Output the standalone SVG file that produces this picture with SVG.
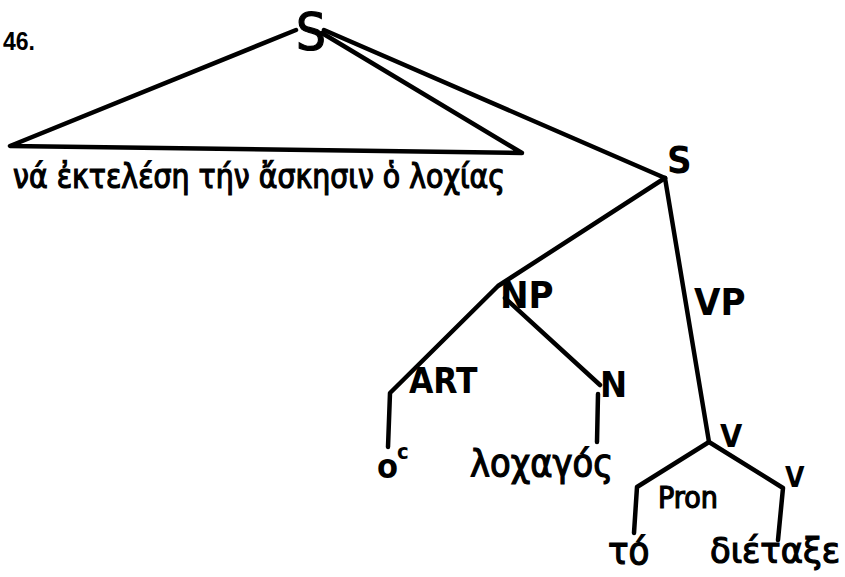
<svg xmlns="http://www.w3.org/2000/svg" width="845" height="577" viewBox="0 0 845 577">
<style>
.ln{stroke:#000;stroke-width:4.5;fill:none;stroke-linecap:round;stroke-linejoin:round}
.t{font-family:"DejaVu Sans Condensed","DejaVu Sans",sans-serif;fill:#000}
.b{font-weight:bold}
.w{stroke:#000;stroke-width:1.2}
.num{font-family:"Liberation Sans",Arial,sans-serif;font-weight:bold;font-size:25px;fill:#000}
</style>
<rect width="845" height="577" fill="#fff"/>
<text class="num" x="3" y="50" textLength="32" lengthAdjust="spacingAndGlyphs">46.</text>
<g id="connectors">
<polyline class="ln" points="296,30 10,146 522,153 322,33"/>
<line class="ln" x1="324" y1="30" x2="665" y2="178"/>
<polyline class="ln" points="665,178 498,286 390,393 388,447"/>
<polyline class="ln" points="505,298 600,385"/>
<line class="ln" x1="598" y1="394" x2="597" y2="442"/>
<line class="ln" x1="665" y1="178" x2="709" y2="442"/>
<polyline class="ln" points="634,533 637,487 709,442 783,488 778,540"/>
</g>
<g id="node-S-top"><text class="t w" x="296" y="50" font-size="52" textLength="30" lengthAdjust="spacingAndGlyphs" stroke-width="2">S</text></g>
<g id="node-clause"><text class="t w" x="13" y="188" font-size="34" textLength="492" lengthAdjust="spacingAndGlyphs">νά ἐκτελέση τήν ἄσκησιν ὁ λοχίας</text></g>
<g id="node-S"><text class="t b" x="667" y="173" font-size="38">S</text></g>
<g id="node-NP"><text class="t b" x="500" y="308" font-size="38">NP</text></g>
<g id="node-VP"><text class="t b" x="694" y="315" font-size="38">VP</text></g>
<g id="node-ART"><text class="t b" x="409" y="393" font-size="35">ART</text></g>
<g id="node-N"><text class="t b" x="600" y="397" font-size="36">N</text></g>
<g id="node-o"><text class="t b" x="377" y="478" font-size="34">o</text><text class="t b" x="397" y="459" font-size="22">c</text></g>
<g id="node-lochagos"><text class="t w" x="470" y="476" font-size="38" textLength="143" lengthAdjust="spacingAndGlyphs">λοχαγός</text></g>
<g id="node-V"><text class="t b" x="720" y="447" font-size="32">V</text></g>
<g id="node-Pron"><text class="t w" x="658" y="508" font-size="30">Pron</text></g>
<g id="node-V2"><text class="t b" x="785" y="487" font-size="28">V</text></g>
<g id="node-to"><text class="t w" x="608" y="564" font-size="38">τό</text></g>
<g id="node-dietaxe"><text class="t w" x="710" y="563" font-size="36" textLength="130" lengthAdjust="spacingAndGlyphs">διέταξε</text></g>
</svg>
